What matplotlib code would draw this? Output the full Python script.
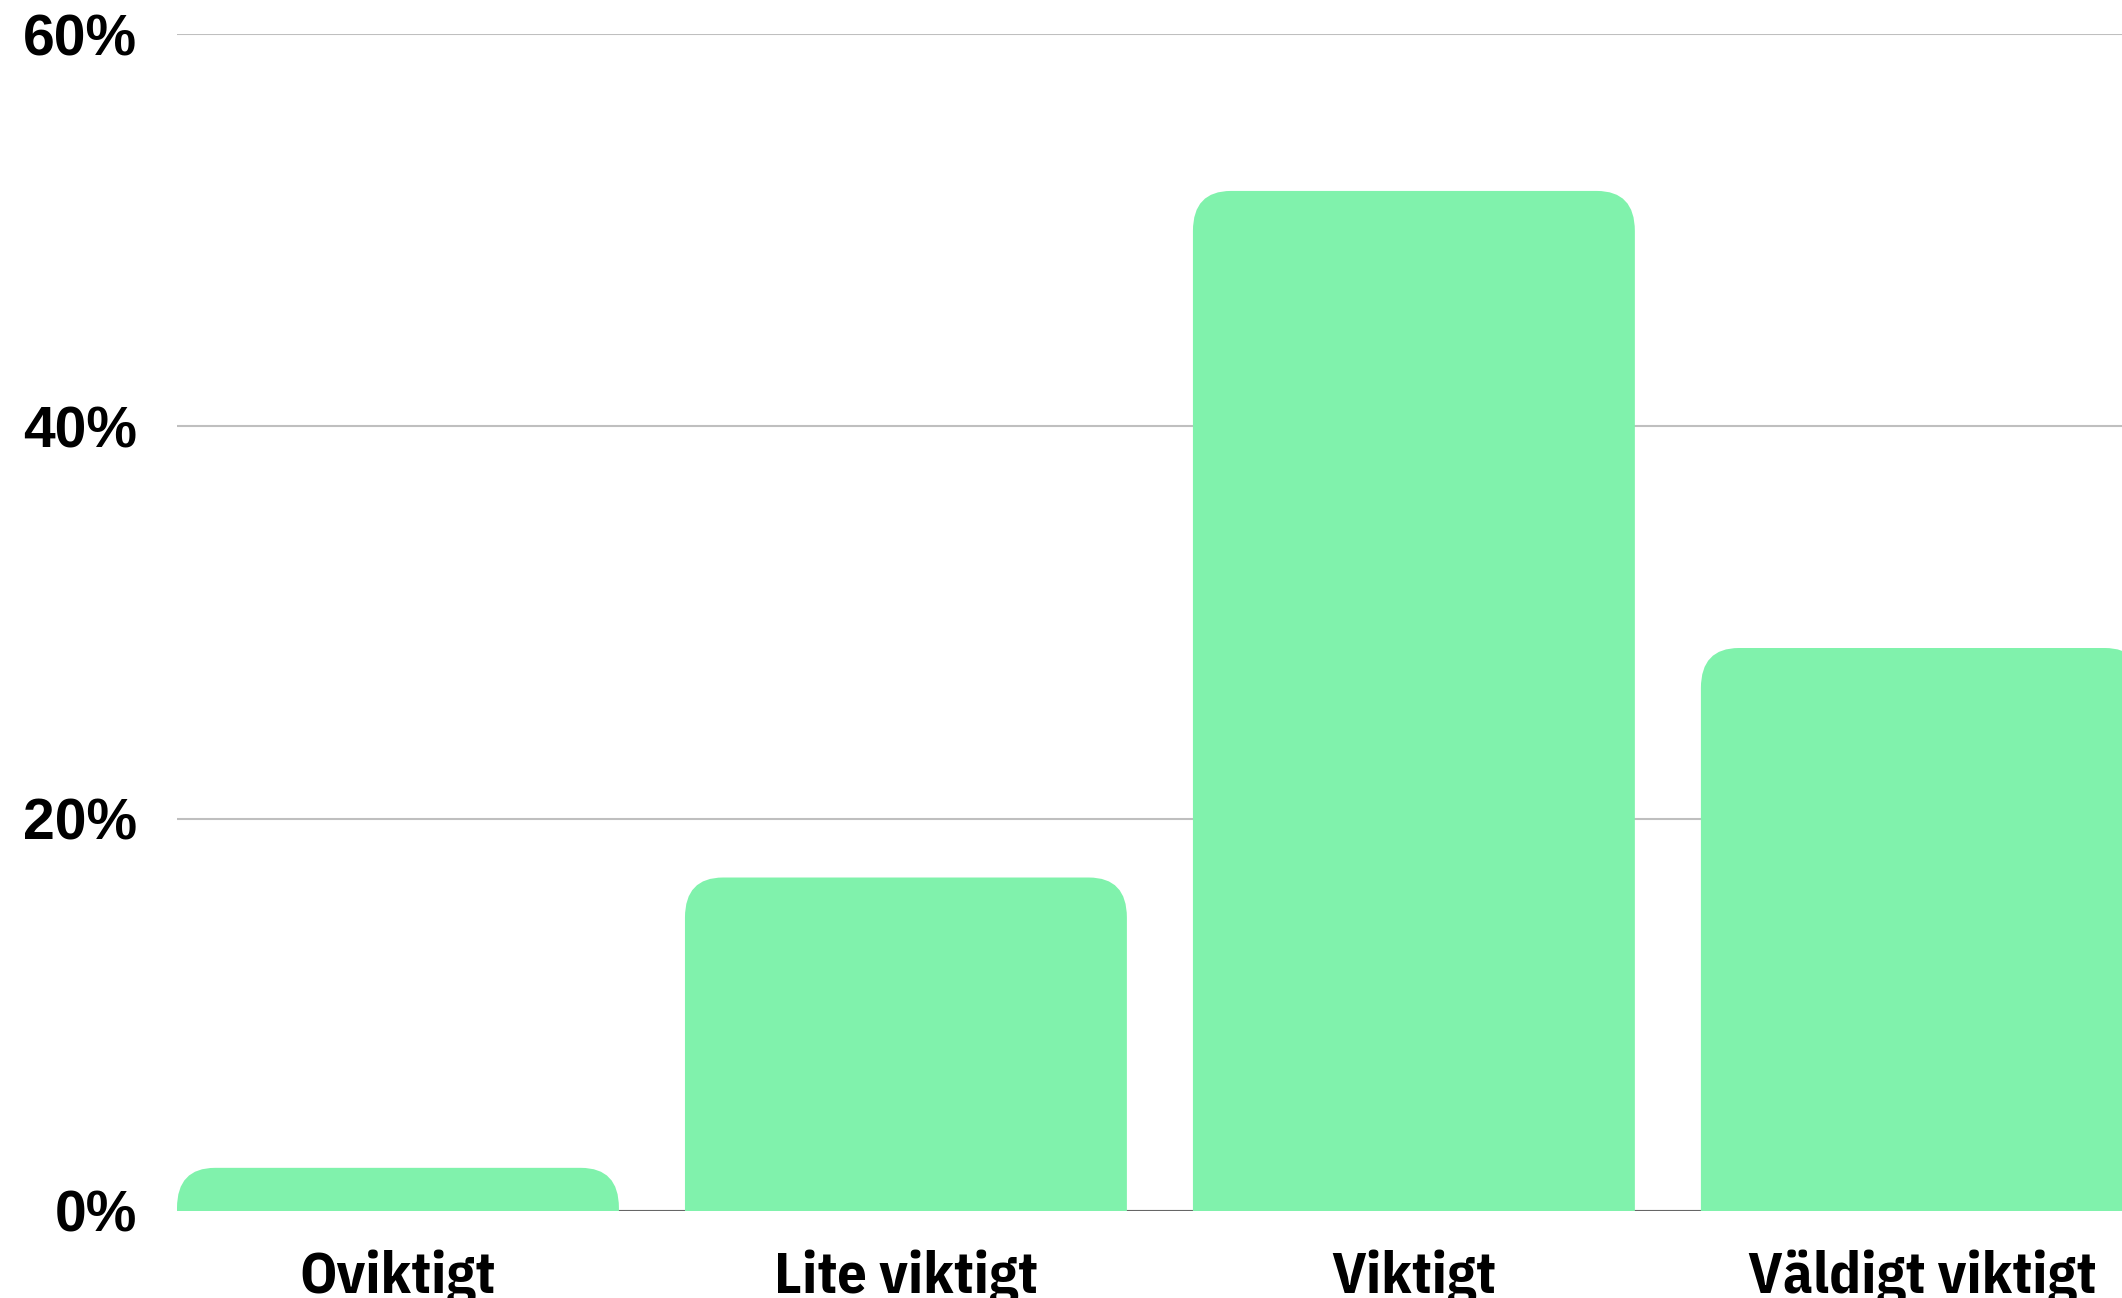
import matplotlib
matplotlib.use("Agg")
import matplotlib.pyplot as plt
from matplotlib.patches import FancyBboxPatch
from matplotlib.ticker import FuncFormatter

categories = ["Oviktigt", "Lite viktigt", "Viktigt", "Väldigt viktigt"]
values = [2.2, 17.0, 52.0, 28.7]
yticks = [0, 20, 40, 60]

W, H, DPI = 2122, 1298, 100
fig = plt.figure(figsize=(W / DPI, H / DPI), dpi=DPI)
left_px, bottom_px, top_px = 177, 87, 1264
ax = fig.add_axes([left_px / W, bottom_px / H, 1 - left_px / W, (top_px - bottom_px) / H])

bar_color = "#80F2AC"
width = 0.87
xlim = (-0.435, 3.394)
ylim = (0, 60)
ax.set_xlim(*xlim)
ax.set_ylim(*ylim)

bars = ax.bar(range(len(categories)), values, width=width, color=bar_color, zorder=3)

# rounded top corners
ax_w_px = W - left_px
ax_h_px = top_px - bottom_px
px_per_x = ax_w_px / (xlim[1] - xlim[0])
px_per_y = ax_h_px / (ylim[1] - ylim[0])
rx_px, ry_px = 38, 40
rx = rx_px / px_per_x
ry = ry_px / px_per_y
aspect = ry / rx
for b in bars:
    x0, w, h = b.get_x(), b.get_width(), b.get_height()
    b.set_visible(False)
    p = FancyBboxPatch((x0, -ry * 2), w, h + ry * 2,
                       boxstyle=f"round,pad=0,rounding_size={rx}",
                       mutation_aspect=aspect,
                       facecolor=bar_color, edgecolor="none", zorder=3,
                       clip_on=True)
    ax.add_patch(p)

ax.set_yticks(yticks)
ax.yaxis.set_major_formatter(FuncFormatter(lambda v, _: f"{int(v)}%"))
ax.grid(axis="y", color="#bfbfbf", linewidth=1.5, zorder=0)
ax.axhline(0, color="#666666", linewidth=1.5, zorder=2)
for s in ax.spines.values():
    s.set_visible(False)
ax.tick_params(axis="both", length=0)
ax.tick_params(axis="y", pad=29)
ax.tick_params(axis="x", pad=28)
ax.set_xticks(range(len(categories)))
ax.set_xticklabels(categories, fontsize=42, fontweight=700,
                   family=["IBM Plex Sans Condensed", "DejaVu Sans"])
for lab in ax.get_yticklabels():
    lab.set_fontsize(41)
    lab.set_fontweight("bold")
    lab.set_family(["Liberation Sans", "DejaVu Sans"])

fig.savefig("out.png", dpi=DPI)
